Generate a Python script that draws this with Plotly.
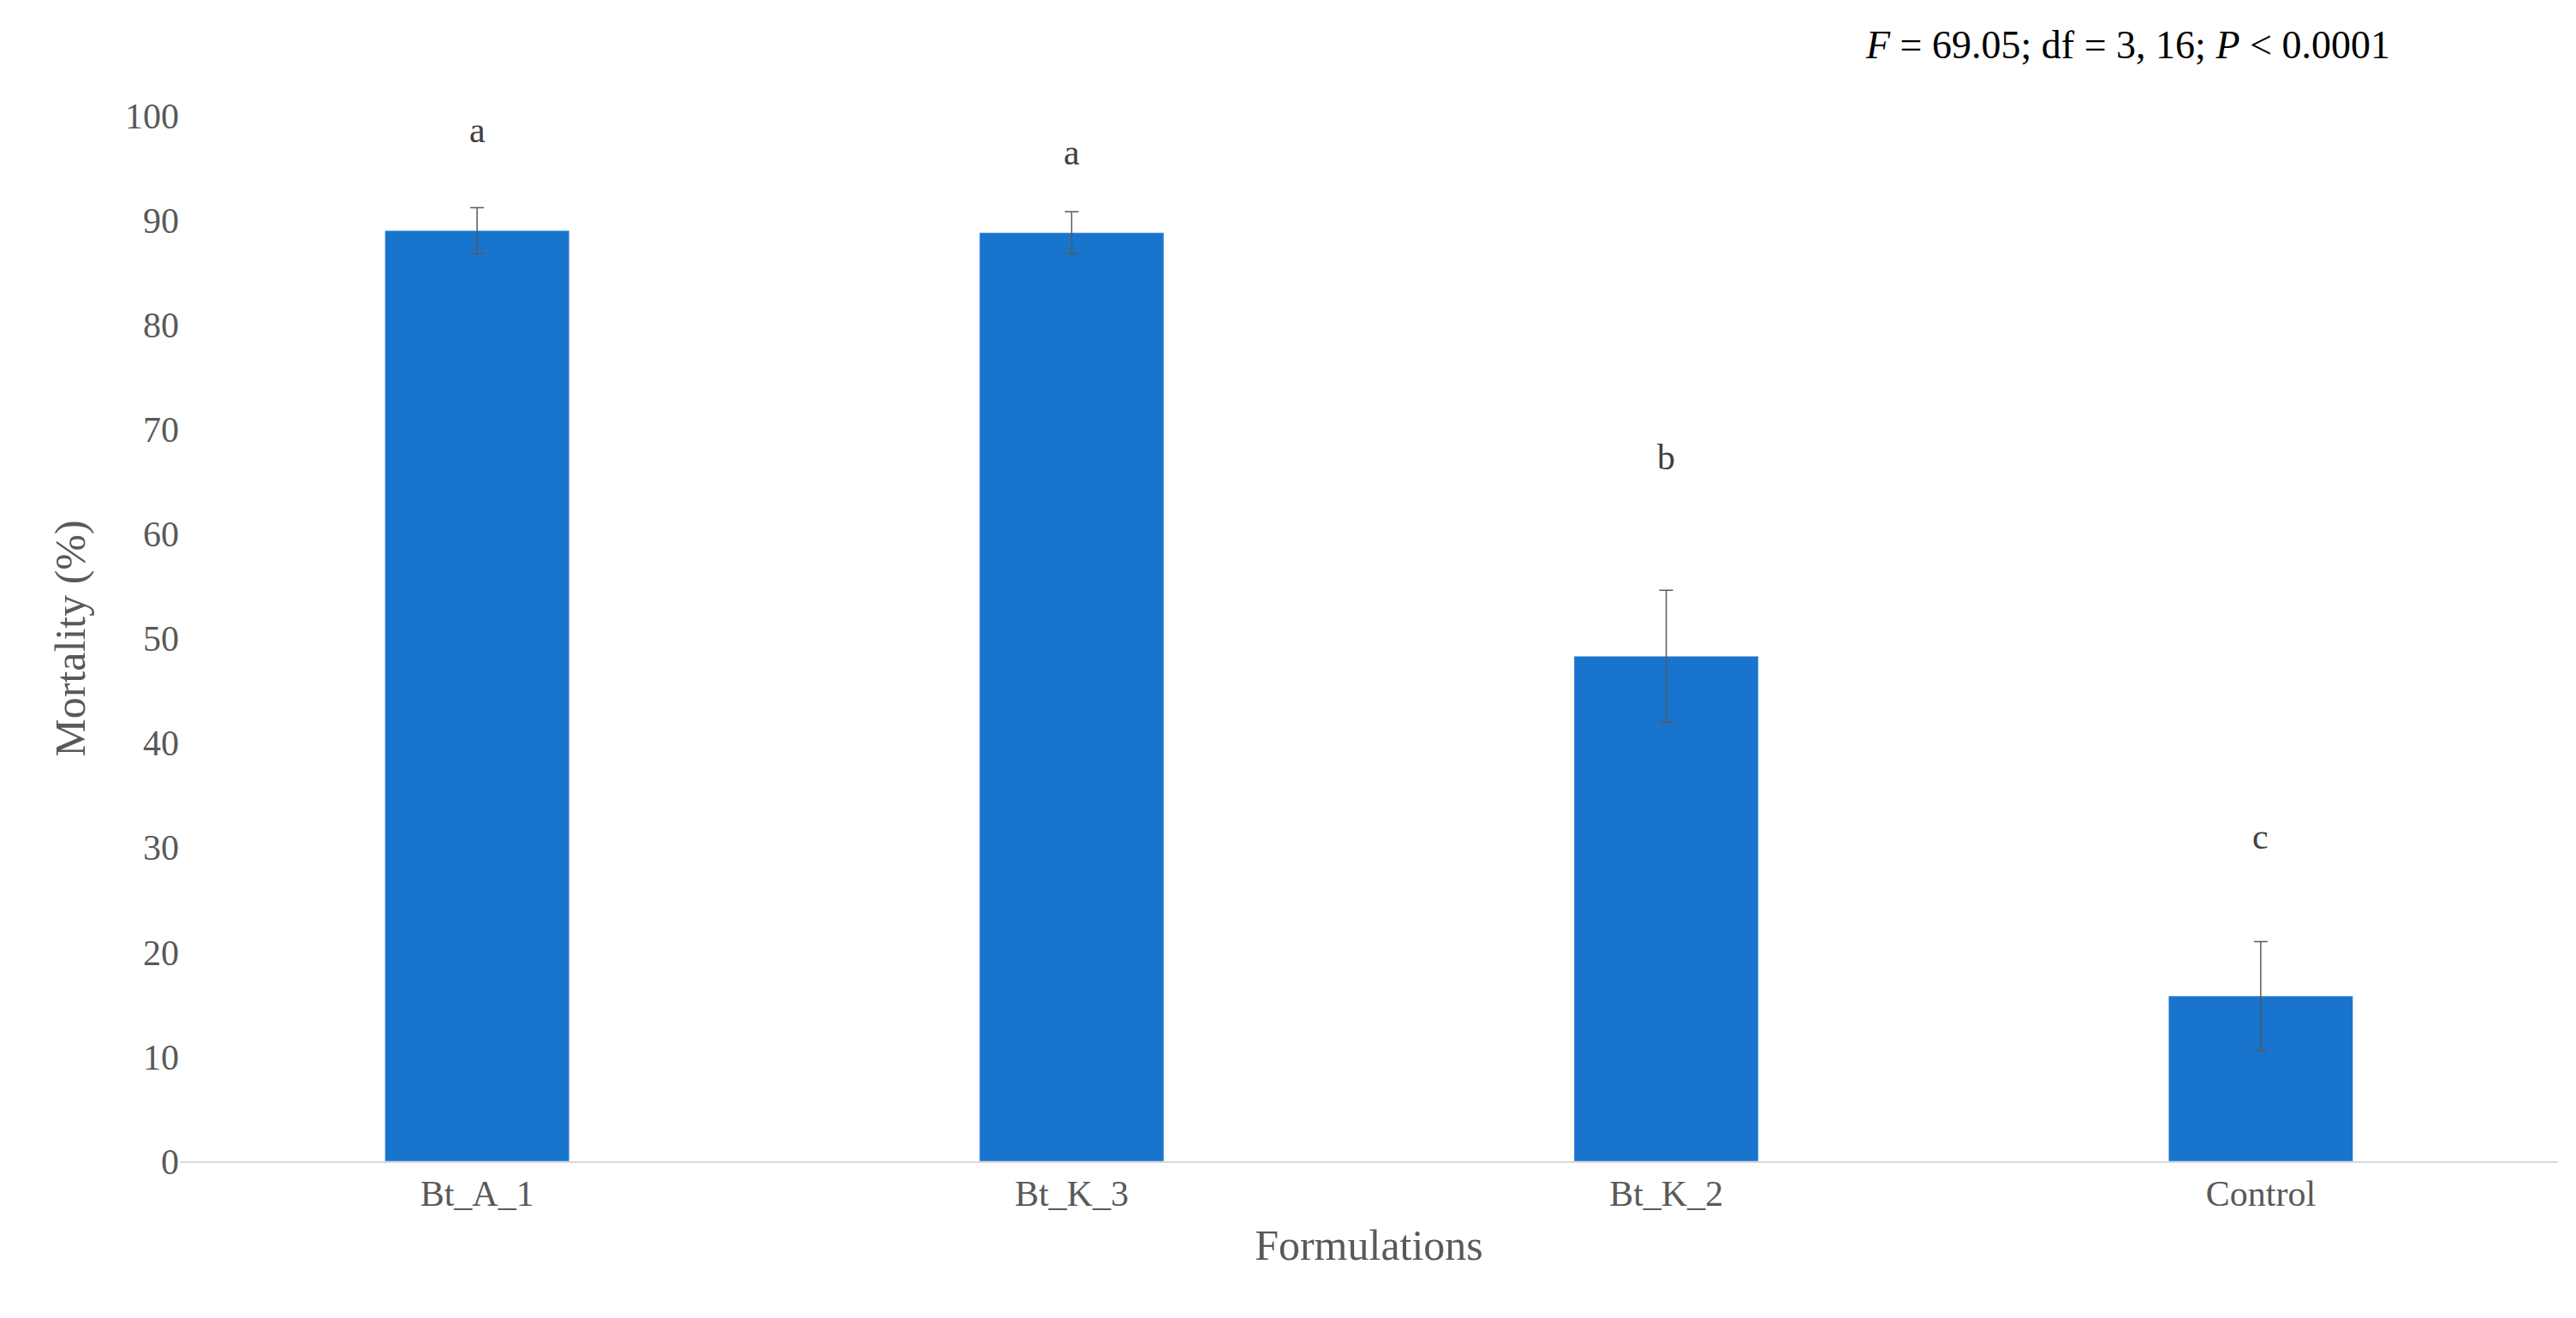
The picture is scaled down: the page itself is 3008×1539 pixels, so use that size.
import plotly.graph_objects as go

categories = ["Bt_A_1", "Bt_K_3", "Bt_K_2", "Control"]
mortality = [89.0, 88.8, 48.3, 15.8]
errors = [2.2, 2.0, 6.3, 5.2]
letters = ["a", "a", "b", "c"]
letter_y = [98.6, 96.5, 67.3, 31.0]

fig = go.Figure()
fig.add_bar(x=categories, y=mortality, width=0.31, marker_color="#1874CD",
            error_y=dict(type="data", array=errors, color="#595959", thickness=1.5, width=8))
for c, l, y in zip(categories, letters, letter_y):
    fig.add_annotation(x=c, y=y, text=l, showarrow=False, font=dict(size=42, color="#404040"))
fig.add_annotation(xref="paper", yref="paper", x=0.93, y=1.09, xanchor="right",
                   text="<i>F</i> = 69.05; df = 3, 16; <i>P</i> < 0.0001", showarrow=False,
                   font=dict(size=46, color="#000000"))
fig.update_layout(
    width=3008, height=1539, plot_bgcolor="white", paper_bgcolor="white",
    font=dict(family="Liberation Serif", size=42, color="#595959"),
    margin=dict(l=202, r=29, t=127, b=191), showlegend=False, bargap=0.69,
    xaxis=dict(title=dict(text="Formulations", standoff=20), showline=True, linecolor="#D9D9D9", linewidth=2, ticks=""),
    yaxis=dict(title=dict(text="Mortality (%)", standoff=30), range=[0, 100], dtick=10, showgrid=False, zeroline=False, ticks=""),
)
fig.write_html("out.html")
